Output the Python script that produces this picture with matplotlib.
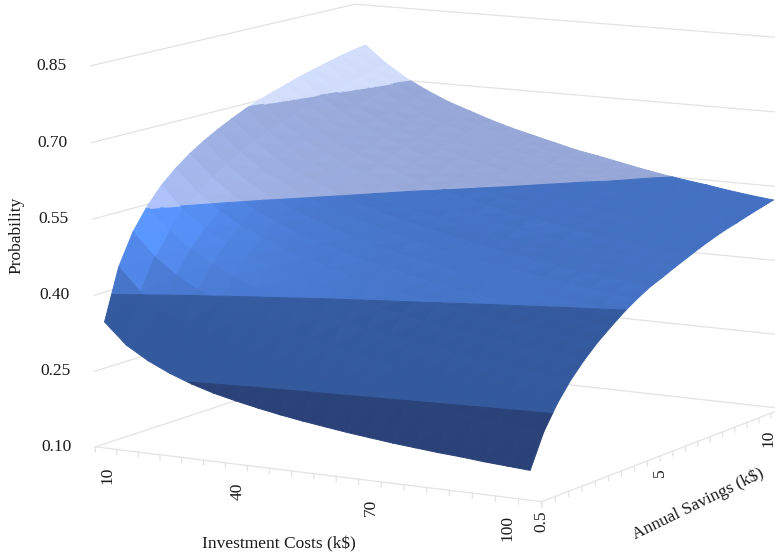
import numpy as np
import matplotlib
matplotlib.use("Agg")
import matplotlib.pyplot as plt
from mpl_toolkits.mplot3d import proj3d
from mpl_toolkits.mplot3d.art3d import Poly3DCollection

plt.rcParams['font.family'] = ['Liberation Serif', 'DejaVu Serif']

# categories of the two floor axes, the last ones carry no label
investment_costs = [10, 15, 20, 25, 30, 35, 40, 45, 50, 55, 60, 65, 70, 75, 80, 85, 90, 95, 100, 105]
annual_savings = [0.5, 1, 1.5, 2, 2.5, 3, 3.5, 4, 4.5, 5, 5.5, 6, 6.5, 7, 7.5, 8, 8.5, 9, 10, 10.5]

# one row per annual saving, one column per investment cost
probability = [
    [.350, .309, .283, .263, .247, .234, .224, .215, .207, .200, .194, .188, .183, .178, .174, .170, .167, .163, .160, .157],
    [.450, .405, .375, .351, .333, .318, .305, .294, .284, .275, .268, .261, .254, .248, .243, .238, .233, .229, .225, .221],
    [.511, .466, .434, .409, .389, .373, .359, .347, .336, .327, .318, .311, .303, .297, .291, .285, .280, .275, .271, .266],
    [.554, .509, .477, .452, .432, .415, .400, .387, .376, .366, .357, .349, .341, .334, .328, .322, .316, .311, .306, .302],
    [.588, .543, .510, .485, .465, .448, .433, .420, .408, .398, .389, .380, .372, .365, .358, .352, .346, .341, .336, .331],
    [.614, .570, .538, .513, .492, .475, .460, .447, .435, .425, .415, .407, .399, .391, .384, .378, .372, .366, .361, .356],
    [.636, .593, .561, .536, .516, .498, .483, .470, .458, .448, .438, .429, .421, .414, .406, .400, .394, .388, .383, .377],
    [.654, .612, .581, .556, .536, .519, .504, .490, .478, .468, .458, .449, .441, .433, .426, .419, .413, .407, .402, .397],
    [.670, .629, .598, .574, .554, .536, .521, .508, .496, .486, .476, .467, .459, .451, .444, .437, .431, .425, .419, .414],
    [.684, .644, .613, .589, .569, .552, .537, .524, .512, .501, .492, .483, .474, .467, .459, .453, .446, .440, .435, .429],
    [.697, .657, .626, .602, .582, .564, .550, .535, .524, .513, .502, .493, .485, .476, .469, .462, .457, .451, .445, .440],
    [.708, .668, .638, .615, .594, .577, .562, .548, .536, .525, .515, .505, .497, .488, .481, .474, .469, .463, .458, .452],
    [.717, .678, .649, .625, .606, .589, .574, .560, .549, .538, .528, .518, .511, .502, .495, .488, .482, .475, .469, .463],
    [.726, .688, .659, .635, .616, .600, .584, .571, .560, .549, .538, .530, .521, .512, .505, .498, .491, .485, .479, .474],
    [.735, .697, .669, .645, .625, .610, .594, .581, .569, .558, .549, .539, .531, .523, .515, .508, .501, .495, .489, .484],
    [.742, .705, .676, .654, .634, .618, .604, .590, .579, .568, .557, .548, .539, .532, .523, .517, .511, .504, .498, .493],
    [.749, .712, .684, .661, .642, .626, .612, .599, .587, .577, .566, .557, .547, .540, .532, .525, .519, .511, .506, .500],
    [.756, .719, .692, .669, .649, .635, .620, .606, .595, .584, .574, .565, .556, .548, .540, .532, .526, .519, .514, .508],
    [.762, .726, .698, .675, .656, .641, .627, .614, .603, .592, .581, .571, .563, .554, .546, .539, .533, .527, .520, .515],
    [.767, .732, .704, .682, .663, .648, .633, .620, .609, .598, .587, .579, .570, .561, .553, .546, .540, .533, .527, .522],
]

z_levels = [0.10, 0.25, 0.40, 0.55, 0.70, 0.85]
z_labels = ["0.10", "0.25", "0.40", "0.55", "0.70", "0.85"]
band_colors = ["#2a4379", "#345a9e", "#4471c2", "#97a8d8", "#d1ddfb"]
band_gain = [0.1, 0.25, 1.0, 0.5, 0.2]

GRID = "#e3e3e3"
TEXT = "#1a1a1a"
FS = 12.5
nx = len(investment_costs)
ny = len(annual_savings)
xlo, xhi = -0.5, nx - 0.5
ylo, yhi = 0, ny - 1
zlo, zhi = z_levels[0], z_levels[-1]
box = (1.3280, 1.3198, 1)

fig = plt.figure(figsize=(7.75, 5.59), dpi=100)
ax = fig.add_axes([39.85/775, -85.40/559, 786.39/775, 786.39/559], projection='3d')
ax.set_xlim(xlo, xhi)
ax.set_ylim(ylo, yhi)
ax.set_zlim(zlo, zhi)
ax.view_init(elev=10.0837, azim=-59.8661, roll=0.1079)
ax.set_proj_type('persp', focal_length=1.4512)
ax.set_box_aspect(box)
ax.set_axis_off()


def clip(poly, level, keep_above):
    # cut a polygon with a horizontal plane
    out = []
    for i in range(len(poly)):
        a, b = poly[i], poly[(i + 1) % len(poly)]
        ina = (a[2] >= level) == keep_above
        inb = (b[2] >= level) == keep_above
        if ina:
            out.append(a)
        if ina != inb:
            t = (level - a[2]) / (b[2] - a[2])
            out.append(a + t * (b - a))
    return out


def facet_light(a, b, c, d):
    # highlight on the quads that fall away towards both high costs and low savings
    sc = np.array([box[0] / (xhi - xlo), box[1] / (yhi - ylo), box[2] / (zhi - zlo)])
    n = np.cross((c - a) * sc, (d - b) * sc)
    n = n / np.linalg.norm(n)
    k = abs(n[1])
    return 0.34 * min(1, abs(n[0]) / 0.55) ** 1.5 * np.exp(-((k - 0.5) / 0.25) ** 2)


P = np.array(probability)
polys = []
cols = []
for i in range(ny - 1):
    for j in range(nx - 1):
        p00 = np.array([j, i, P[i, j]])
        p10 = np.array([j + 1, i, P[i, j + 1]])
        p01 = np.array([j, i + 1, P[i + 1, j]])
        p11 = np.array([j + 1, i + 1, P[i + 1, j + 1]])
        light = facet_light(p00, p10, p11, p01)
        for t, tri in enumerate(([p00, p10, p11], [p00, p11, p01])):
            for b, base in enumerate(band_colors):
                part = clip(tri, z_levels[b], True)
                if part:
                    part = clip(part, z_levels[b + 1], False)
                if len(part) < 3:
                    continue
                gain = 0.995 + light * band_gain[b] + (0.005 if t else -0.005)
                rgb = np.clip(np.array(matplotlib.colors.to_rgb(base)) * gain, 0, 1)
                polys.append(np.array(part))
                cols.append(rgb)

surface = Poly3DCollection(polys, facecolors=cols, edgecolors=cols, linewidths=0.7)
ax.add_collection3d(surface, autolim=False)

# walls behind the surface
for z in z_levels:
    ax.plot([xlo, xlo, xhi], [ylo, yhi, yhi], [z, z, z], color=GRID, lw=0.9)

# floor axes with their ticks
ax.plot([xlo, xhi, xhi], [ylo, ylo, yhi], [zlo, zlo, zlo], color=GRID, lw=0.9)
for j in range(nx + 1):
    ax.plot([xlo + j, xlo + j], [ylo, ylo], [zlo, zlo - 0.01], color=GRID, lw=0.9)
for i in range(ny):
    ax.plot([xhi, xhi], [i, i], [zlo, zlo - 0.01], color=GRID, lw=0.9)

M = ax.get_proj()


def label(x, y, z, text, dx, dy, **kw):
    px, py, _ = proj3d.proj_transform(x, y, z, M)
    ax.annotate(text, (px, py), xytext=(dx, dy), textcoords='offset pixels',
                annotation_clip=False, color=TEXT, fontsize=FS, **kw)


for z, s in zip(z_levels, z_labels):
    label(xlo, ylo, z, s, -24, 0, ha='right', va='center')

for j, inv in enumerate(investment_costs):
    if inv in (10, 40, 70, 100):
        label(j, ylo, zlo, str(inv), 1, -18, ha='center', va='top', rotation=90)

for i, dx, dy in ((0, 0, -9), (9, 0, -12), (18, -3, -16)):
    s = "%g" % annual_savings[i]
    label(xhi, i, zlo, s, dx, dy, ha='center', va='top', rotation=90)

fig.text(16/775, 1 - 235/559, "Probability", rotation=90, ha='center', va='center', fontsize=FS, color=TEXT)
fig.text(279/775, 1 - 544/559, "Investment Costs (k$)", ha='center', va='center', fontsize=FS, color=TEXT)
fig.text(698/775, 1 - 504/559, "Annual Savings (k$)", rotation=26, ha='center', va='center',
         rotation_mode='anchor', fontsize=FS, color=TEXT)

fig.savefig("out.png", dpi=100)
